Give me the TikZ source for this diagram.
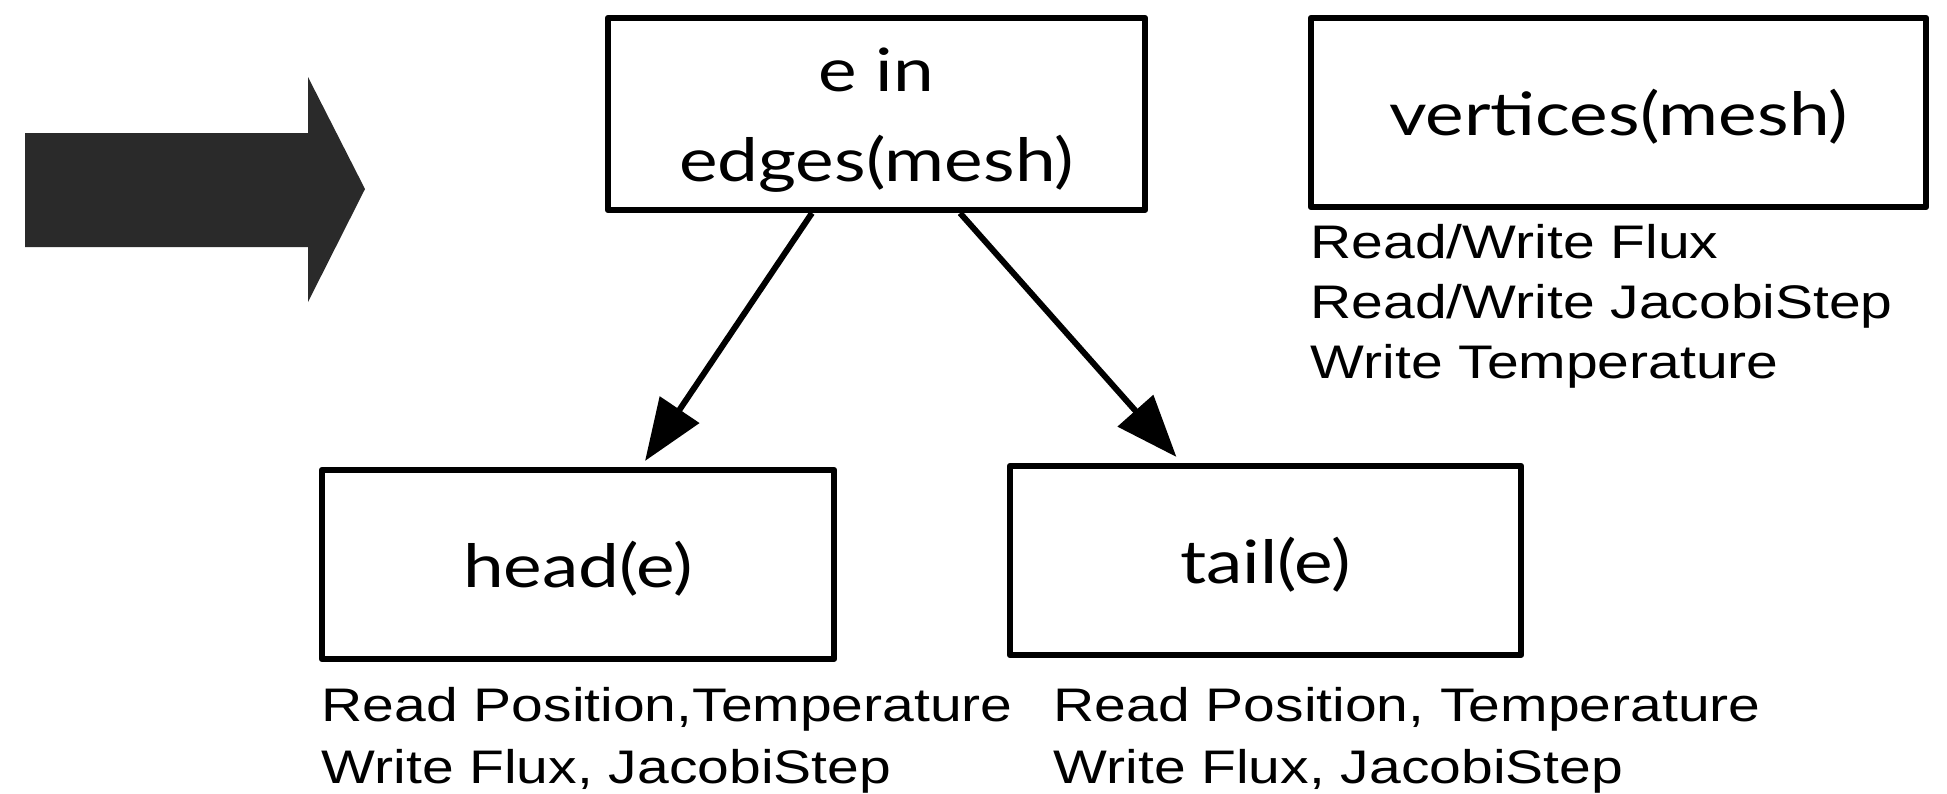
\documentclass[tikz,border=0pt]{standalone}
\usepackage{fontspec}
\usetikzlibrary{arrows.meta}
\newfontfamily\boxfont[FakeStretch=1.22]{Lato}
\newfontfamily\notefont[FakeStretch=1.21]{Liberation Sans}
\definecolor{bigarrow}{RGB}{42,42,42}

\tikzset{
  loopbox/.style={draw, line width=1.7pt, line join=round, inner sep=0pt, align=center,
    text height=16.6pt, text depth=3.4pt,
    font=\boxfont\fontsize{17}{25.6}\selectfont},
  access/.style={inner sep=0pt, anchor=base west, align=left,
    font=\notefont\fontsize{13.4}{17.4}\selectfont},
  flow/.style={-{Triangle[length=17.6pt,width=13.2pt]}, line width=1.7pt}
}

\begin{document}
\begin{tikzpicture}[x=0.01cm,y=-0.01cm]
  \useasboundingbox (0,0) rectangle (1947,793);
  % block arrow on the left
  \fill[bigarrow] (25,133)--(308,133)--(308,77)--(365,189)--(308,302)--(308,247)--(25,247)--cycle;
  % loop boxes
  \node[loopbox, minimum width=5.37cm, minimum height=1.92cm, text height=41.6pt] (edges) at (876.5,114) {e in\\edges(mesh)};
  \node[loopbox, minimum width=6.15cm, minimum height=1.89cm] (verts) at (1618.5,112.5) {vertices(mesh)};
  \node[loopbox, minimum width=5.12cm, minimum height=1.89cm] (head) at (578,564.5) {head(e)};
  \node[loopbox, minimum width=5.11cm, minimum height=1.89cm] (tail) at (1265.5,560.5) {tail(e)};
  \draw[flow] ([xshift=-0.645cm]edges.south) -- ([xshift=0.67cm,yshift=0.06cm]head.north);
  \draw[flow] ([xshift=0.835cm]edges.south) -- ([xshift=-0.89cm,yshift=0.06cm]tail.north);
  % field access notes
  \node[access, font=\notefont\fontsize{13.4}{17}\selectfont] (vnote) at (1310,378) {Read/Write Flux\\Read/Write JacobiStep\\Write Temperature};
  \node[access] (hnote) at (321,783) {Read Position,Temperature\\Write Flux, JacobiStep};
  \node[access] (tnote) at (1053,783) {Read Position, Temperature\\Write Flux, JacobiStep};
\end{tikzpicture}
\end{document}
